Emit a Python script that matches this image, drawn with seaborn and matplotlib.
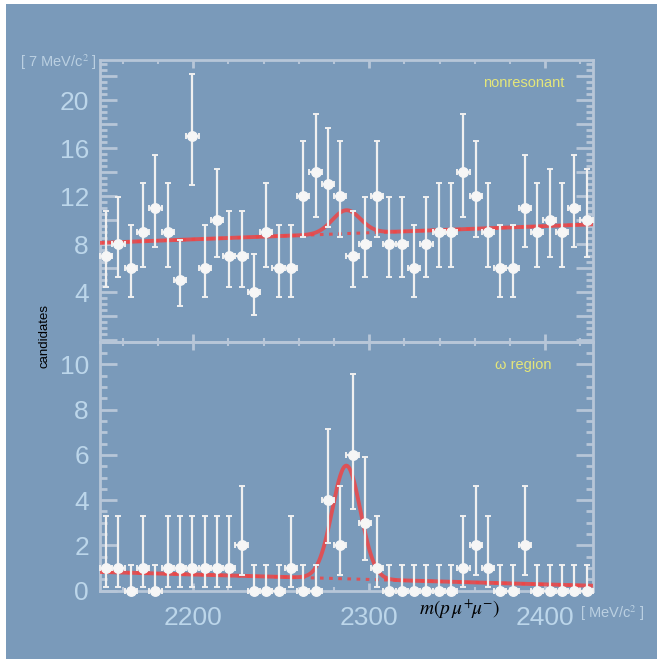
import numpy as np
import pandas as pd
import matplotlib
matplotlib.use("Agg")
import matplotlib.pyplot as plt
from matplotlib.patches import Rectangle
from matplotlib.ticker import MultipleLocator, FuncFormatter
import seaborn as sns

sns.set_theme(style="ticks")
plt.rcParams["font.family"] = ["Liberation Sans Narrow", "Liberation Sans", "DejaVu Sans"]
plt.rcParams["mathtext.fontset"] = "stix"

# 7 MeV bins from 2147 to 2427
bin_lo = 2147
bin_w = 7
n_bins = 40

top_counts = [7, 8, 6, 9, 11, 9, 5, 17, 6, 10, 7, 7, 4, 9, 6, 6, 12, 14, 13, 12,
              7, 8, 12, 8, 8, 6, 8, 9, 9, 14, 12, 9, 6, 6, 11, 9, 10, 9, 11, 10]
bottom_counts = [1, 1, 0, 1, 0, 1, 1, 1, 1, 1, 1, 2, 0, 0, 0, 1, 0, 0, 4, 2,
                 6, 3, 1, 0, 0, 0, 0, 0, 0, 1, 2, 1, 0, 0, 2, 0, 0, 0, 0, 0]

# asymmetric error bar ends, by count
err_low_end = [0, 0.17, 0.71, 1.37, 2.09, 2.84, 3.62, 4.42, 5.23, 6.06, 6.89,
               7.73, 8.58, 9.44, 10.30, 11.17, 12.05, 12.93]
err_high_end = [1.15, 3.30, 4.64, 5.92, 7.16, 8.38, 9.58, 10.77, 11.95, 13.11,
                14.27, 15.42, 16.56, 17.70, 18.83, 19.96, 21.08, 22.20]

# fit: gaussian peak on a linear background
peak_mean = 2287.0
peak_sigma = 8.0
top_bkg = (8.1, 9.65)      # at left / right edge
top_peak_amp = 1.95
bottom_bkg = (0.83, 0.22)
bottom_peak_amp = 5.0

BG = "#7a9aba"
FRAME = "#b7c6d8"
TICKTXT = "#bcd6ea"
RED = "#ee4646"

centers = bin_lo + bin_w / 2 + bin_w * np.arange(n_bins)
x_hi = bin_lo + bin_w * n_bins
xfit = np.linspace(bin_lo, x_hi, 600)


def fit_curves(bkg, amp):
    b = bkg[0] + (bkg[1] - bkg[0]) * (xfit - bin_lo) / (x_hi - bin_lo)
    s = amp * np.exp(-0.5 * ((xfit - peak_mean) / peak_sigma) ** 2)
    return pd.DataFrame({"m": xfit, "total": b + s, "bkg": b})


fig = plt.figure(figsize=(6.57, 6.59), dpi=100)
fig.patch.set_facecolor("white")
fig.add_artist(Rectangle((6 / 657, 0), 1, 1 - 4 / 659, transform=fig.transFigure,
                         facecolor=BG, edgecolor="none", zorder=-10))

left, right = 100 / 657, 592.7 / 657
y_top, y_mid, y_bot = 1 - 60 / 659, 1 - 341.7 / 659, 1 - 590.7 / 659
ax1 = fig.add_axes([left, y_mid, right - left, y_top - y_mid])
ax2 = fig.add_axes([left, y_bot, right - left, y_mid - y_bot], sharex=ax1)

panels = [(ax1, top_counts, top_bkg, top_peak_amp, (-0.14, 23.35), "nonresonant"),
          (ax2, bottom_counts, bottom_bkg, bottom_peak_amp, (0, 11.0), "ω region")]

for ax, counts, bkg, amp, ylim, tag in panels:
    ax.set_facecolor("none")
    df = fit_curves(bkg, amp)
    sns.lineplot(data=df, x="m", y="bkg", ax=ax, color=RED, lw=2.2,
                 linestyle=(0, (1.2, 1.8)), alpha=0.85, zorder=2)
    sns.lineplot(data=df, x="m", y="total", ax=ax, color=RED, lw=2.8,
                 alpha=0.85, zorder=3)
    c = np.array(counts)
    lo = c - np.array(err_low_end)[c]
    hi = np.array(err_high_end)[c] - c
    ax.errorbar(centers, c, yerr=[lo, hi], xerr=bin_w / 2, fmt="o", ms=6.8,
                color="#f6f6f6", ecolor="#f0f0f0", elinewidth=1.6, capsize=2.5,
                capthick=1.4, zorder=4, clip_on=False)
    ax.set_xlim(bin_lo, x_hi)
    ax.set_ylim(*ylim)
    ax.set_xlabel("")
    ax.set_ylabel("")
    for sp in ax.spines.values():
        sp.set_color(FRAME)
        sp.set_linewidth(2)
    ax.xaxis.set_major_locator(MultipleLocator(100))
    ax.xaxis.set_minor_locator(MultipleLocator(20))
    ax.yaxis.set_major_locator(MultipleLocator(2))
    ax.yaxis.set_minor_locator(MultipleLocator(0.5))
    ax.tick_params(axis="both", which="both", direction="in", top=True, right=True,
                   color=FRAME, labelcolor=TICKTXT, labelsize=19)
    ax.tick_params(axis="y", which="major", length=12, width=2, pad=8)
    ax.tick_params(axis="y", which="minor", length=5, width=2)
    ax.tick_params(axis="x", which="major", length=6, width=2, pad=11)
    ax.tick_params(axis="x", which="minor", length=3, width=1.5)
    ax.text(0.86, 0.92 if ax is ax1 else 0.905, tag, transform=ax.transAxes,
            ha="center", va="center", color="#e4e67a", fontsize=10.5)

ax1.yaxis.set_major_formatter(FuncFormatter(
    lambda v, p: "%d" % v if (round(v) % 4 == 0 and v > 0.5) else ""))
ax2.yaxis.set_major_formatter(FuncFormatter(lambda v, p: "%d" % v))
ax1.tick_params(axis="x", labelbottom=False)

fig.text(58 / 657, 1 - 62 / 659, r"[ 7 MeV/c$^{2}$ ]", ha="center", va="center",
         color="#c2d6e6", fontsize=10.5, alpha=0.9)
fig.text(45 / 657, 1 - 336 / 659, "candidates", rotation=90, ha="center",
         va="center", color="black", fontsize=9.5)
fig.text(460 / 657, 1 - 609 / 659, r"$m(p\,\mu^{+}\!\mu^{-})$", ha="center",
         va="center", color="black", fontsize=14)
fig.text(612 / 657, 1 - 613 / 659, r"[ MeV/c$^{2}$ ]", ha="center", va="center",
         color="#c2d6e6", fontsize=10.5, alpha=0.9)

fig.savefig("out.png", dpi=100, facecolor=fig.get_facecolor())
